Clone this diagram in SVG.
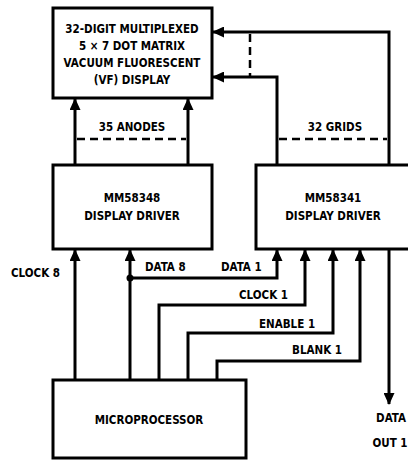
<svg xmlns="http://www.w3.org/2000/svg" width="408" height="462" viewBox="0 0 408 462">
<defs>
<style>
.box{fill:#fff;stroke:#000;stroke-width:3}
.w{fill:none;stroke:#000;stroke-width:3}
.d{fill:none;stroke:#000;stroke-width:2.5;stroke-dasharray:8,5}
text{font-family:"Liberation Sans Narrow","DejaVu Sans Condensed","Liberation Sans",sans-serif;font-weight:bold;font-size:11.5px;fill:#000}
.c{text-anchor:middle}
</style>
<marker id="a" viewBox="0 0 12 11" refX="11" refY="5.5" markerWidth="12" markerHeight="11" markerUnits="userSpaceOnUse" orient="auto">
<path d="M0,0 L12,5.5 L0,11 Z" fill="#000"/>
</marker>
</defs>
<rect width="408" height="462" fill="#fff"/>
<g id="connectors">
<path class="w" d="M75,165 V99" marker-end="url(#a)"/>
<path class="w" d="M188,165 V99" marker-end="url(#a)"/>
<path class="w" d="M389,165 V32 H213" marker-end="url(#a)"/>
<path class="w" d="M277,165 V77 H213" marker-end="url(#a)"/>
<path class="d" d="M250,34 V76"/>
<path class="d" d="M77,139 H186"/>
<path class="d" d="M279,139 H387"/>
<path class="w" d="M75,380 V250" marker-end="url(#a)"/>
<path class="w" d="M130,380 V250" marker-end="url(#a)"/>
<path class="w" d="M130,278 H277 V250" marker-end="url(#a)"/>
<circle cx="130" cy="278" r="3.5" fill="#000"/>
<path class="w" d="M159,380 V305 H305 V250" marker-end="url(#a)"/>
<path class="w" d="M188,380 V333 H333 V250" marker-end="url(#a)"/>
<path class="w" d="M217,380 V361 H360 V250" marker-end="url(#a)"/>
<path class="w" d="M389,249 V404" marker-end="url(#a)"/>
</g>
<g id="display">
<rect class="box" x="53" y="8" width="159" height="90"/>
<text class="c" x="132" y="33">32-DIGIT MULTIPLEXED</text>
<text class="c" x="132" y="50">5 × 7 DOT MATRIX</text>
<text class="c" x="132" y="67">VACUUM FLUORESCENT</text>
<text class="c" x="132" y="84">(VF) DISPLAY</text>
</g>
<g id="driver8">
<rect class="box" x="53" y="165" width="159" height="84"/>
<text class="c" x="132" y="202">MM58348</text>
<text class="c" x="132" y="220">DISPLAY DRIVER</text>
</g>
<g id="driver1">
<rect class="box" x="256" y="165" width="160" height="84"/>
<text class="c" x="333" y="202">MM58341</text>
<text class="c" x="333" y="220">DISPLAY DRIVER</text>
</g>
<g id="mpu">
<rect class="box" x="53" y="380" width="193" height="78"/>
<text class="c" x="149" y="424">MICROPROCESSOR</text>
</g>
<g id="labels">
<text class="c" x="132" y="131">35 ANODES</text>
<text class="c" x="335" y="131">32 GRIDS</text>
<text x="11" y="277">CLOCK 8</text>
<text x="145" y="271">DATA 8</text>
<text x="221" y="271">DATA 1</text>
<text x="239" y="299">CLOCK 1</text>
<text x="259" y="328">ENABLE 1</text>
<text x="292" y="354">BLANK 1</text>
<text class="c" x="391" y="422">DATA</text>
<text class="c" x="390" y="447">OUT 1</text>
</g>
</svg>
